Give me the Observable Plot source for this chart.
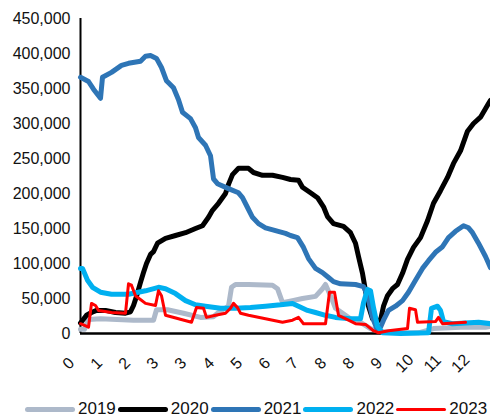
<!DOCTYPE html>
<html><head><meta charset="utf-8">
<script src="https://cdn.jsdelivr.net/npm/d3@7"></script>
<script src="https://cdn.jsdelivr.net/npm/@observablehq/plot@0.6"></script>
<style>
body{margin:0;background:#fff;font-family:"Liberation Sans",Arial,sans-serif;}
#chart{width:490px;height:419px;position:relative;overflow:hidden;background:#fff}
#legend{position:absolute;left:25px;top:398px;height:22px;display:flex;align-items:center;font-size:17px;color:#111;white-space:nowrap}
.item{display:flex;align-items:center;margin-right:2px}
.sw{width:50px;border-radius:3px;margin-right:3px}
</style></head><body><div id="chart"><div id="legend"></div></div>
<script>
// x tick labels (15 equally spaced categories, 28 days apart)
const tickLabels = ["0","1","2","3","3","4","5","6","7","8","8","9","10","11","12"];
const yTicks = [0,50000,100000,150000,200000,250000,300000,350000,400000,450000];

// series: [day, value in thousands]
const s2019 = [[0,6],[4,6],[8,20],[20,21],[53,19],[73,19],[76,34],[87,34],[103,29],[120,23],[133,24],[138,30],[148,39],[151,66],[155,70],[168,70],[192,69],[197,64],[202,44],[212,47],[222,50],[235,53],[242,64],[245,70],[250,54],[255,36],[265,26],[272,19],[280,16],[290,7],[300,3],[320,1],[338,1],[353,7],[380,9],[405,9],[410,10]];
const s2020 = [[0,15],[6,26],[11,30],[16,33],[25,33],[35,30],[45,29],[50,31],[53,40],[56,53],[60,73],[63,87],[66,100],[70,113],[73,117],[77,129],[85,136],[95,140],[105,144],[115,150],[122,154],[128,166],[132,176],[138,186],[145,200],[148,213],[152,227],[158,236],[168,236],[173,230],[182,226],[192,226],[202,223],[210,220],[218,219],[222,209],[230,201],[237,194],[243,181],[247,167],[253,157],[263,153],[270,144],[275,129],[278,110],[282,86],[285,61],[288,39],[292,21],[296,19],[300,19],[303,39],[307,54],[312,64],[317,70],[322,86],[327,106],[333,123],[340,137],[347,161],[353,186],[360,204],[367,223],[373,243],[380,261],[387,289],[393,300],[400,309],[407,326],[410,333]];
const s2021 = [[0,366],[8,360],[13,349],[20,336],[22,366],[31,373],[41,383],[48,386],[60,389],[65,396],[70,397],[76,393],[81,380],[86,361],[93,351],[98,334],[102,316],[110,307],[115,294],[118,280],[125,269],[130,254],[133,221],[137,214],[148,207],[158,201],[162,194],[167,180],[172,166],[178,157],[185,151],[195,147],[205,143],[210,140],[217,137],[223,123],[228,107],[235,93],[242,87],[248,80],[253,74],[260,71],[275,70],[283,67],[287,54],[292,23],[297,4],[300,9],[303,19],[308,33],[315,39],[322,47],[328,59],[335,76],[342,93],[348,104],[355,116],[362,124],[368,137],[375,146],[383,154],[388,151],[392,144],[398,129],[405,110],[410,94]];
const s2022 = [[0,93],[2,93],[7,76],[12,66],[20,59],[31,56],[48,56],[65,61],[78,66],[85,64],[95,57],[105,47],[115,41],[125,39],[140,36],[155,36],[170,37],[185,39],[200,41],[212,43],[218,39],[227,33],[235,30],[245,26],[255,23],[270,21],[280,21],[283,44],[287,63],[290,61],[293,37],[297,10],[302,1],[320,0],[348,1],[351,36],[357,39],[360,33],[363,17],[372,14],[398,16],[410,14]];
const s2023 = [[0,14],[8,9],[11,43],[15,40],[18,33],[31,30],[45,29],[48,71],[51,69],[55,54],[65,43],[75,40],[78,61],[81,54],[85,26],[98,21],[111,16],[116,37],[123,36],[126,23],[135,26],[145,29],[150,36],[153,43],[157,37],[160,29],[168,26],[185,21],[202,16],[212,19],[218,23],[223,14],[245,14],[249,59],[254,59],[258,26],[268,19],[275,14],[285,13],[293,4],[298,1],[308,4],[327,7],[329,36],[335,34],[337,16],[355,17],[358,23],[362,14],[385,16]];

const seriesNames = ["2019","2020","2021","2022","2023"];
const seriesData = [s2019, s2020, s2021, s2022, s2023];
const seriesColors = ["#adb9ca","#000000","#2e75b6","#00b0f0","#ff0000"];
const seriesWidths = [5,5,5,5,3];

const tickDays = tickLabels.map((_, i) => i * 28);

const marks = [
  Plot.ruleX([0], {stroke:"#000", strokeWidth:2}),
  Plot.ruleY([0], {stroke:"#000", strokeWidth:2.5}),
  Plot.axisY({ticks: yTicks, tickFormat: d3.format(","), tickSize: 0, tickPadding: 10, fontSize: 16, label: null}),
  Plot.axisX({ticks: tickDays, tickFormat: d => tickLabels[Math.round(d / 28)], tickSize: 0, tickRotate: -45,
    textAnchor: "middle", lineAnchor: "middle", tickPadding: 30, dx: -12, fontSize: 16, label: null})
];
seriesNames.forEach((name, k) => {
  const rows = seriesData[k].map(([d, v]) => ({day: d, value: v * 1000}));
  marks.push(Plot.line(rows, {x: "day", y: "value", stroke: seriesColors[k], strokeWidth: seriesWidths[k],
    strokeLinejoin: "round", strokeLinecap: "round"}));
});

const plot = Plot.plot({
  width: 490, height: 392,
  marginLeft: 80, marginRight: 0, marginTop: 18, marginBottom: 59,
  x: {domain: [0, 410], label: null},
  y: {domain: [0, 450000], label: null},
  style: {fontFamily: "'Liberation Sans', Arial, sans-serif", fontSize: "16px", color: "#111", background: "#fff", overflow: "hidden"},
  marks
});
document.getElementById("chart").prepend(plot);

const legend = document.getElementById("legend");
seriesNames.forEach((name, k) => {
  const it = document.createElement("div"); it.className = "item";
  const sw = document.createElement("div"); sw.className = "sw";
  sw.style.background = seriesColors[k]; sw.style.height = seriesWidths[k] + "px";
  const tx = document.createElement("span"); tx.textContent = name;
  it.appendChild(sw); it.appendChild(tx); legend.appendChild(it);
});
</script></body></html>
